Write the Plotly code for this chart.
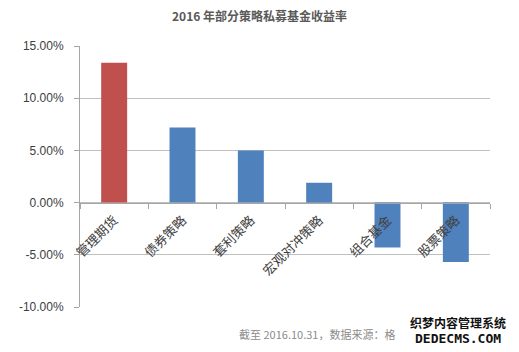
import plotly.graph_objects as go

categories = ["管理期货", "债券策略", "套利策略", "宏观对冲策略", "组合基金", "股票策略"]
returns_pct = [13.4, 7.2, 5.0, 1.9, -4.3, -5.7]
bar_colors = ["#c0504d", "#4f81bd", "#4f81bd", "#4f81bd", "#4f81bd", "#4f81bd"]
y_ticks = [-10, -5, 0, 5, 10, 15]
y_tick_labels = ["-10.00%", "-5.00%", "0.00%", "5.00%", "10.00%", "15.00%"]
title_text = "2016 年部分策略私募基金收益率"
source_text = "截至 2016.10.31，数据来源：格"

fig = go.Figure()
fig.add_trace(go.Bar(
    x=categories, y=returns_pct,
    marker=dict(color=bar_colors, line=dict(width=0)),
    width=0.38,
))

fig.update_layout(
    width=519, height=352,
    margin=dict(l=80, r=29, t=46, b=45),
    paper_bgcolor="white", plot_bgcolor="white",
    showlegend=False,
    title=dict(text="<b>" + title_text + "</b>", x=0.5, xanchor="center",
               y=1 - 17 / 352, yanchor="middle", yref="container",
               font=dict(family="Noto Sans CJK SC", size=12, color="#595959")),
    font=dict(family="Liberation Sans, Arial", color="#404040"),
)

fig.update_yaxes(
    range=[-10, 15], tickvals=y_ticks, ticktext=y_tick_labels,
    showgrid=True, gridcolor="#bfbfbf", gridwidth=1,
    zeroline=False,
    showline=True, linecolor="#a6a6a6", linewidth=1,
    ticks="outside", ticklen=5, tickcolor="#a6a6a6",
    tickfont=dict(family="Liberation Sans, Arial", size=12, color="#404040"),
    ticklabelstandoff=8,
)
fig.update_xaxes(
    type="category",
    anchor="free", position=0.4,
    showline=True, linecolor="#a6a6a6", linewidth=1,
    showgrid=False,
    ticks="outside", ticklen=5, tickcolor="#a6a6a6", tickson="boundaries",
    tickangle=-45,
    tickfont=dict(family="Noto Sans CJK SC", size=13, color="#404040"),
    ticklabelstandoff=4,
)

fig.add_annotation(
    text=source_text, xref="paper", yref="paper",
    x=(237 - 80) / 410, y=-(334 - 307) / 261, xanchor="left", yanchor="middle",
    showarrow=False, font=dict(family="Noto Sans CJK SC", size=11, color="#8c8c8c"),
)
fig.add_annotation(
    text="<b>织梦内容管理系统</b>", xref="paper", yref="paper",
    x=(458 - 80) / 410, y=-(322 - 307) / 261, xanchor="center", yanchor="middle",
    showarrow=False, font=dict(family="Noto Sans CJK SC", size=12, color="#111111"),
    bgcolor="rgba(255,255,255,0.6)", borderpad=0,
)
fig.add_annotation(
    text="<b>DEDECMS.COM</b>", xref="paper", yref="paper",
    x=(458 - 80) / 410, y=-(338 - 307) / 261, xanchor="center", yanchor="middle",
    showarrow=False, font=dict(family="DejaVu Sans Mono", size=13, color="#111111"),
    borderpad=0,
)

fig.write_html("out.html")
